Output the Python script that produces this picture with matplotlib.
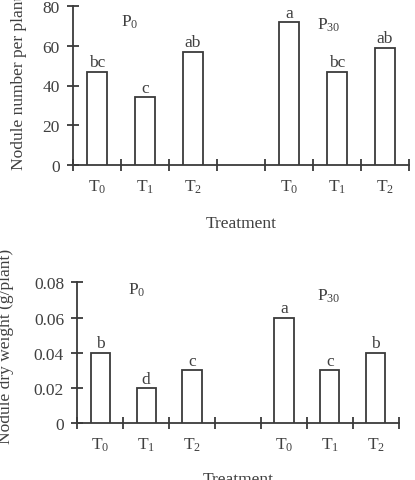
import matplotlib
matplotlib.use("Agg")
import matplotlib.pyplot as plt
import numpy as np

plt.rcParams['font.family'] = ['Liberation Serif', 'DejaVu Serif']
plt.rcParams['mathtext.fontset'] = 'custom'
plt.rcParams['mathtext.rm'] = 'Liberation Serif'
plt.rcParams['mathtext.default'] = 'rm'

# Data
slots = [0.5, 1.5, 2.5, 4.5, 5.5, 6.5]
tick_labels = [r'T$_0$', r'T$_1$', r'T$_2$', r'T$_0$', r'T$_1$', r'T$_2$']
nodule_number = [47, 34, 57, 72, 47, 59]
number_letters = ['bc', 'c', 'ab', 'a', 'bc', 'ab']
nodule_weight = [0.04, 0.02, 0.03, 0.06, 0.03, 0.04]
weight_letters = ['b', 'd', 'c', 'a', 'c', 'b']
group_labels = [r'P$_0$', r'P$_{30}$']

W, H = 415, 481
fig = plt.figure(figsize=(W / 100, H / 100), dpi=100)

ink = '#3a3a3a'
txt = '#404040'
fs = 12.5


def px_axes(x0, x1, ytop, ybot):
    return fig.add_axes([x0 / W, (H - ybot) / H, (x1 - x0) / W, (ybot - ytop) / H])


def style(ax, yticks, ylim, yfmt):
    for s in ['top', 'right']:
        ax.spines[s].set_visible(False)
    for s in ['left', 'bottom']:
        ax.spines[s].set_linewidth(1.3)
        ax.spines[s].set_color(ink)
    ax.set_xlim(0, 7)
    ax.set_ylim(*ylim)
    ax.set_xticks(np.arange(0, 8))
    ax.set_xticklabels([])
    ax.set_xticks(slots, minor=True)
    ax.set_xticklabels(tick_labels, minor=True, fontsize=fs, color=txt)
    ax.tick_params(axis='x', which='major', direction='inout', length=9, width=1.3, color=ink)
    ax.tick_params(axis='x', which='minor', length=0, pad=9)
    ax.set_yticks(yticks)
    ax.set_yticklabels([yfmt(v) for v in yticks], fontsize=fs, color=txt)
    ax.tick_params(axis='y', direction='inout', length=8, width=1.3, color=ink, pad=5.5)
    ax.set_facecolor('none')


# Top panel
ax1 = px_axes(73, 409, 7, 166)
ax1.bar(slots, nodule_number, width=0.42, facecolor='white', edgecolor=ink, linewidth=1.3, zorder=3)
style(ax1, [0, 20, 40, 60, 80], (0, 80), lambda v: f'{v:g}')
for x, v, l in zip(slots, nodule_number, number_letters):
    ax1.annotate(l, (x, v), xytext=(0, 1), textcoords='offset points', ha='center', va='bottom',
                 fontsize=fs, color=txt)
ax1.text(1.01, 70, group_labels[0], fontsize=fs, color=txt, ha='left', va='baseline')
ax1.text(5.08, 68.8, group_labels[1], fontsize=fs, color=txt, ha='left', va='baseline')
ax1.set_xlabel('Treatment', fontsize=fs, color=txt, labelpad=14.5)
fig.text(19 / W, 1 - 83 / H, 'Nodule number per plant', rotation=90, ha='center', va='center',
         fontsize=fs, color=txt)

# Bottom panel
ax2 = px_axes(77.3, 398.7, 283.3, 424.3)
ax2.bar(slots, nodule_weight, width=0.42, facecolor='white', edgecolor=ink, linewidth=1.3, zorder=3)
style(ax2, [0, 0.02, 0.04, 0.06, 0.08], (0, 0.08), lambda v: '0' if v == 0 else f'{v:.2f}')
for x, v, l in zip(slots, nodule_weight, weight_letters):
    ax2.annotate(l, (x, v), xytext=(0, 1), textcoords='offset points', ha='center', va='bottom',
                 fontsize=fs, color=txt)
ax2.text(1.11, 0.0734, group_labels[0], fontsize=fs, color=txt, ha='left', va='baseline')
ax2.text(5.22, 0.0700, group_labels[1], fontsize=fs, color=txt, ha='left', va='baseline')
ax2.set_xlabel('Treatment', fontsize=fs, color=txt, labelpad=13)
fig.text(6 / W, 1 - 346 / H, 'Nodule dry weight (g/plant)', rotation=90, ha='center', va='center',
         fontsize=fs, color=txt)

fig.savefig('out.png', dpi=100)
